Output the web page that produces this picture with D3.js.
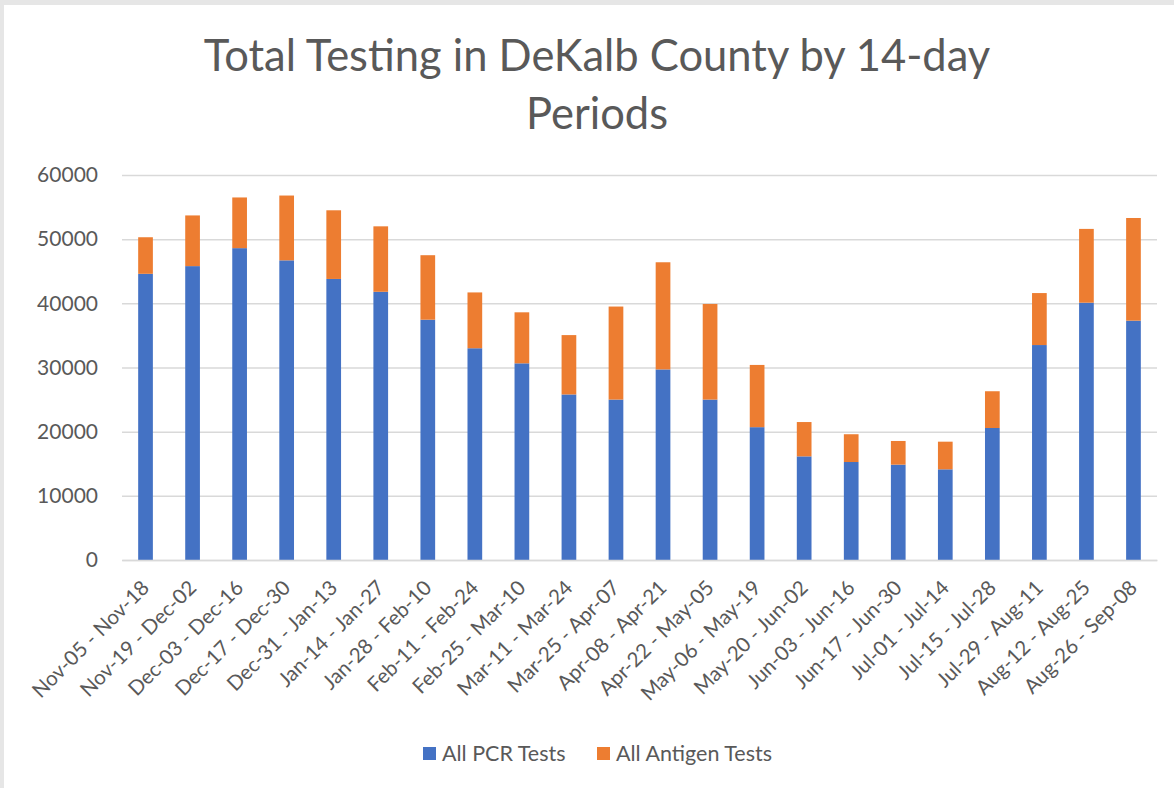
<!DOCTYPE html>
<html>
<head>
<meta charset="utf-8">
<script src="https://cdn.jsdelivr.net/npm/d3@7"></script>
<style>
  body { margin: 0; background: #e6e6e6; }
  text { font-family: Lato, "Open Sans", sans-serif; fill: #595959; }
</style>
</head>
<body>
<div id="chart"></div>
<script>
// Data
var periods = ["Nov-05 - Nov-18", "Nov-19 - Dec-02", "Dec-03 - Dec-16", "Dec-17 - Dec-30",
  "Dec-31 - Jan-13", "Jan-14 - Jan-27", "Jan-28 - Feb-10", "Feb-11 - Feb-24",
  "Feb-25 - Mar-10", "Mar-11 - Mar-24", "Mar-25 - Apr-07", "Apr-08 - Apr-21",
  "Apr-22 - May-05", "May-06 - May-19", "May-20 - Jun-02", "Jun-03 - Jun-16",
  "Jun-17 - Jun-30", "Jul-01 - Jul-14", "Jul-15 - Jul-28", "Jul-29 - Aug-11",
  "Aug-12 - Aug-25", "Aug-26 - Sep-08"];
var pcrTests = [44600, 45800, 48600, 46700, 43800, 41800, 37450, 33000, 30650, 25800, 25000,
  29700, 25000, 20700, 16150, 15270, 14860, 14130, 20570, 33500, 40100, 37300];
var antigenTests = [5700, 7900, 7900, 10100, 10700, 10200, 10050, 8700, 7950, 9250, 14500,
  16700, 14900, 9700, 5350, 4330, 3690, 4310, 5730, 8100, 11500, 16000];
var seriesNames = ["All PCR Tests", "All Antigen Tests"];
var seriesColors = ["#4472c4", "#ed7d31"];
var yTicks = [0, 10000, 20000, 30000, 40000, 50000, 60000];

var W = 1174, H = 788;
var plot = {left: 122, right: 1157, top: 175, bottom: 560};

var svg = d3.select("#chart")
  .append("svg")
    .attr("width", W)
    .attr("height", H)
    .style("display", "block");

// white chart area with the gray frame showing at the top and left
svg.append("rect")
  .attr("x", 4).attr("y", 5)
  .attr("width", W - 4).attr("height", H - 5)
  .attr("fill", "#ffffff");

// Title
var title = svg.append("text")
  .attr("text-anchor", "middle")
  .style("font-size", "43.5px");
title.append("tspan").attr("x", 597).attr("y", 71).text("Total Testing in DeKalb County by 14-day");
title.append("tspan").attr("x", 597).attr("y", 129).text("Periods");

// Scales
var x = d3.scaleBand()
  .domain(periods)
  .range([plot.left, plot.right])
  .paddingInner(0.6875)
  .paddingOuter(0.34375);

var y = d3.scaleLinear()
  .domain([0, 60000])
  .range([plot.bottom, plot.top]);

// Gridlines
var yAxis = svg.append("g")
  .attr("transform", `translate(${plot.left},0)`)
  .call(d3.axisLeft(y).tickValues(yTicks).tickSize(-(plot.right - plot.left)).tickPadding(24).tickFormat(d3.format("d")));
yAxis.select(".domain").remove();
yAxis.selectAll(".tick line").attr("stroke", "#d9d9d9").attr("stroke-width", 1.5);
yAxis.selectAll(".tick text").style("font-size", "21px").attr("fill", "#595959");

// Stack the two series
var rows = periods.map((p, i) => ({period: p, pcr: pcrTests[i], antigen: antigenTests[i]}));
var stacked = d3.stack().keys(["pcr", "antigen"])(rows);

svg.append("g")
  .selectAll("g")
  .data(stacked)
  .join("g")
    .attr("fill", (d, i) => seriesColors[i])
  .selectAll("rect")
  .data(d => d)
  .join("rect")
    .attr("x", d => x(d.data.period))
    .attr("width", x.bandwidth())
    .attr("y", d => y(d[1]))
    .attr("height", d => y(d[0]) - y(d[1]));

// X axis
var xAxis = svg.append("g")
  .attr("transform", `translate(0,${plot.bottom})`)
  .call(d3.axisBottom(x).tickSize(0).tickPadding(0));
xAxis.select(".domain").attr("stroke", "#d9d9d9").attr("stroke-width", 1.5);
xAxis.selectAll(".tick text")
  .style("font-size", "20.5px")
  .attr("fill", "#595959")
  .attr("text-anchor", "end")
  .attr("dy", null)
  .attr("transform", "translate(5,29) rotate(-45)");

// Legend
var legendItems = [{name: seriesNames[0], color: seriesColors[0], x: 423},
                   {name: seriesNames[1], color: seriesColors[1], x: 597}];
var legend = svg.append("g")
  .selectAll("g")
  .data(legendItems)
  .join("g")
    .attr("transform", d => `translate(${d.x},747)`);
legend.append("rect")
  .attr("width", 13).attr("height", 13)
  .attr("fill", d => d.color);
legend.append("text")
  .attr("x", 19).attr("y", 14)
  .style("font-size", "21.5px")
  .text(d => d.name);
</script>
</body>
</html>
